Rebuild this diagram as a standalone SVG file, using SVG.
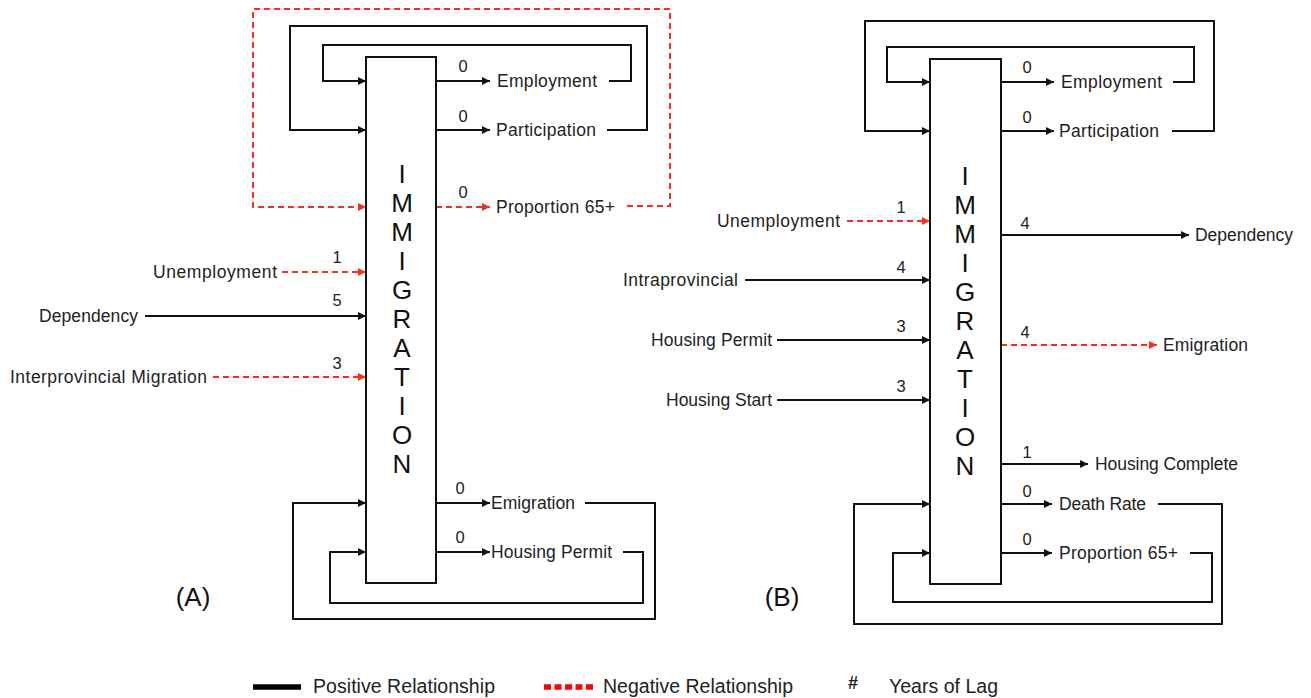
<svg xmlns="http://www.w3.org/2000/svg" width="1311" height="698" viewBox="0 0 1311 698">
<style>
.lbl{font-family:"Liberation Sans",Arial,sans-serif;font-size:17.5px;fill:#222}
.num{font-family:"Liberation Sans",Arial,sans-serif;font-size:16.5px;fill:#222;text-anchor:middle}
.big{font-family:"Liberation Sans",Arial,sans-serif;font-size:26px;fill:#111;text-anchor:middle}
.box{fill:#fff;stroke:#111;stroke-width:2}
.pos{fill:none;stroke:#111;stroke-width:2}
.neg{fill:none;stroke:#f5301e;stroke-width:2;stroke-dasharray:6 4}
.pa{marker-end:url(#ab)}
.na{marker-end:url(#ar)}
.leg{font-family:"Liberation Sans",Arial,sans-serif;font-size:19.5px;fill:#222}
</style>
<defs>
<marker id="ab" markerUnits="userSpaceOnUse" markerWidth="10" markerHeight="10" refX="8" refY="4" orient="auto"><path d="M0,0 L8,4 L0,8 z" fill="#111"/></marker>
<marker id="ar" markerUnits="userSpaceOnUse" markerWidth="10" markerHeight="10" refX="8" refY="4" orient="auto"><path d="M0,0 L8,4 L0,8 z" fill="#f5301e"/></marker>
</defs>
<rect width="1311" height="698" fill="#fff"/>

<g id="connectors">
<!-- Panel A -->
<path class="pos pa" d="M436,81 H490"/>
<path class="pos pa" d="M609,81 H631 V45 H323 V81 H366"/>
<path class="pos pa" d="M436,130 H490"/>
<path class="pos pa" d="M607,130 H647 V26 H290 V130 H366"/>
<path class="neg na" d="M436,207 H490"/>
<path class="neg na" d="M627,206 H670 V9 H253 V207 H366"/>
<path class="neg na" d="M282,272 H366"/>
<path class="pos pa" d="M145,316 H366"/>
<path class="neg na" d="M213,377 H366"/>
<path class="pos pa" d="M436,503 H490"/>
<path class="pos pa" d="M585,503 H655 V619 H293 V503 H366"/>
<path class="pos pa" d="M436,552 H490"/>
<path class="pos pa" d="M623,552 H643 V603 H330 V552 H366"/>
<!-- Panel B -->
<path class="pos pa" d="M1001,82 H1054"/>
<path class="pos pa" d="M1173,82 H1194 V47 H887 V82 H930"/>
<path class="pos pa" d="M1001,131 H1054"/>
<path class="pos pa" d="M1172,131 H1214 V21 H865 V131 H930"/>
<path class="neg na" d="M847,221 H930"/>
<path class="pos pa" d="M745,280 H930"/>
<path class="pos pa" d="M777,340 H930"/>
<path class="pos pa" d="M777,400 H930"/>
<path class="pos pa" d="M1001,235 H1189"/>
<path class="neg na" d="M1001,345 H1157"/>
<path class="pos pa" d="M1001,464 H1088"/>
<path class="pos pa" d="M1001,504 H1052"/>
<path class="pos pa" d="M1158,504 H1222 V624 H854 V504 H930"/>
<path class="pos pa" d="M1001,553 H1052"/>
<path class="pos pa" d="M1190,553 H1212 V602 H893 V553 H930"/>
</g>

<g id="lags">
<text class="num" x="463" y="72">0</text>
<text class="num" x="463" y="122">0</text>
<text class="num" x="463" y="198">0</text>
<text class="num" x="337" y="263">1</text>
<text class="num" x="337" y="306">5</text>
<text class="num" x="337" y="369">3</text>
<text class="num" x="460" y="494">0</text>
<text class="num" x="460" y="543">0</text>
<text class="num" x="1027" y="73">0</text>
<text class="num" x="1027" y="123">0</text>
<text class="num" x="901" y="213">1</text>
<text class="num" x="901" y="273">4</text>
<text class="num" x="901" y="332">3</text>
<text class="num" x="901" y="392">3</text>
<text class="num" x="1025" y="229">4</text>
<text class="num" x="1025" y="338">4</text>
<text class="num" x="1027" y="458">1</text>
<text class="num" x="1027" y="497">0</text>
<text class="num" x="1027" y="545">0</text>
</g>

<g id="immigration-a">
<rect class="box" x="366" y="57" width="70" height="526"/>
<text class="big"><tspan x="402" y="183">I</tspan><tspan x="402" y="212">M</tspan><tspan x="402" y="241">M</tspan><tspan x="402" y="270">I</tspan><tspan x="402" y="299">G</tspan><tspan x="402" y="328">R</tspan><tspan x="402" y="357">A</tspan><tspan x="402" y="386">T</tspan><tspan x="402" y="415">I</tspan><tspan x="402" y="444">O</tspan><tspan x="402" y="473">N</tspan></text>
</g>
<g id="a-employment"><text class="lbl" x="497" y="87" textLength="100">Employment</text></g>
<g id="a-participation"><text class="lbl" x="496" y="136" textLength="100">Participation</text></g>
<g id="a-proportion65"><text class="lbl" x="496" y="213" textLength="119">Proportion 65+</text></g>
<g id="a-unemployment"><text class="lbl" x="153" y="278" textLength="124">Unemployment</text></g>
<g id="a-dependency"><text class="lbl" x="39" y="322" textLength="99">Dependency</text></g>
<g id="a-interprovincial"><text class="lbl" x="10" y="383" textLength="197">Interprovincial Migration</text></g>
<g id="a-emigration"><text class="lbl" x="491" y="509" textLength="84">Emigration</text></g>
<g id="a-housing-permit"><text class="lbl" x="491" y="558" textLength="121">Housing Permit</text></g>
<g id="label-a"><text class="big" x="193" y="606">(A)</text></g>

<g id="immigration-b">
<rect class="box" x="930" y="59" width="71" height="525"/>
<text class="big"><tspan x="965" y="185">I</tspan><tspan x="965" y="214">M</tspan><tspan x="965" y="243">M</tspan><tspan x="965" y="272">I</tspan><tspan x="965" y="301">G</tspan><tspan x="965" y="330">R</tspan><tspan x="965" y="359">A</tspan><tspan x="965" y="388">T</tspan><tspan x="965" y="417">I</tspan><tspan x="965" y="446">O</tspan><tspan x="965" y="475">N</tspan></text>
</g>
<g id="b-employment"><text class="lbl" x="1061" y="88" textLength="101">Employment</text></g>
<g id="b-participation"><text class="lbl" x="1059" y="137" textLength="100">Participation</text></g>
<g id="b-unemployment"><text class="lbl" x="717" y="227" textLength="123">Unemployment</text></g>
<g id="b-intraprovincial"><text class="lbl" x="623" y="286" textLength="115">Intraprovincial</text></g>
<g id="b-housing-permit"><text class="lbl" x="651" y="346" textLength="121">Housing Permit</text></g>
<g id="b-housing-start"><text class="lbl" x="666" y="406" textLength="106">Housing Start</text></g>
<g id="b-dependency"><text class="lbl" x="1195" y="241" textLength="98">Dependency</text></g>
<g id="b-emigration"><text class="lbl" x="1163" y="351" textLength="85">Emigration</text></g>
<g id="b-housing-complete"><text class="lbl" x="1095" y="470" textLength="143">Housing Complete</text></g>
<g id="b-death-rate"><text class="lbl" x="1059" y="510" textLength="87">Death Rate</text></g>
<g id="b-proportion65"><text class="lbl" x="1059" y="559" textLength="119">Proportion 65+</text></g>
<g id="label-b"><text class="big" x="782" y="606">(B)</text></g>

<g id="legend">
<line x1="253" y1="687" x2="301" y2="687" stroke="#000" stroke-width="5.5"/>
<text class="leg" x="313" y="693" textLength="182">Positive Relationship</text>
<line x1="544" y1="687" x2="593" y2="687" stroke="#ff0000" stroke-width="5.5" stroke-dasharray="7 3.5"/>
<text class="leg" x="603" y="693" textLength="190">Negative Relationship</text>
<text class="leg" x="853" y="689" style="font-size:18px;font-weight:bold" text-anchor="middle">#</text>
<text class="leg" x="889" y="693" textLength="109">Years of Lag</text>
</g>
</svg>
